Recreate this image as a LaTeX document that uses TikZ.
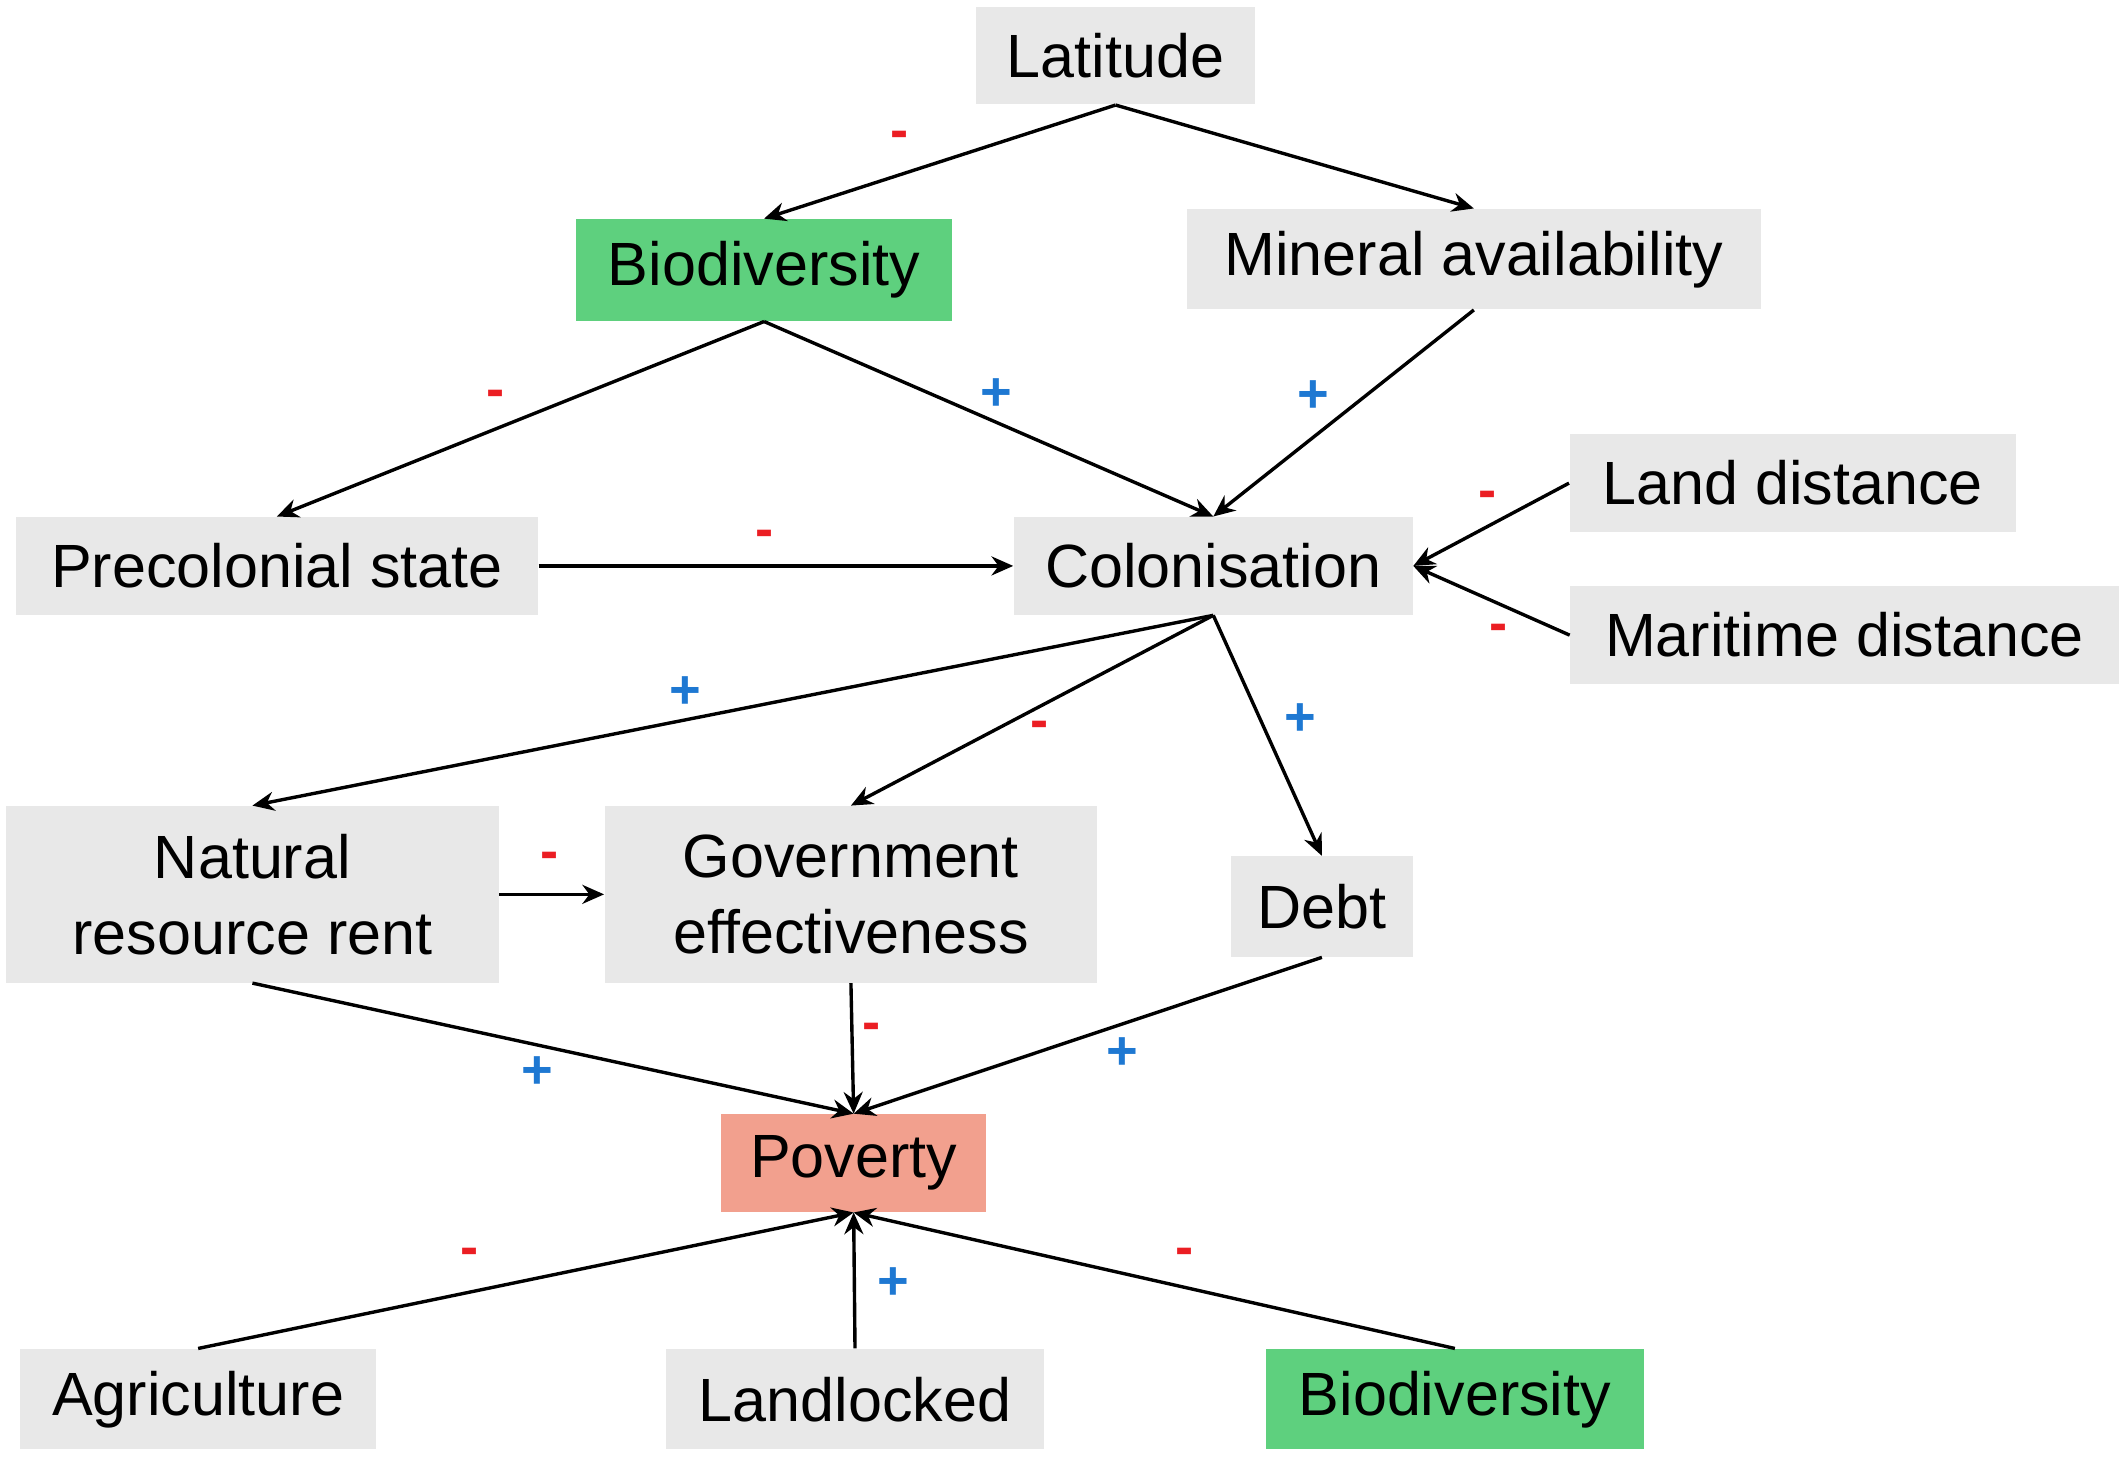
\documentclass[tikz,border=0pt]{standalone}
\usepackage{fontspec}
\setmainfont{Liberation Sans}
\usetikzlibrary{arrows.meta}
\definecolor{boxgrey}{RGB}{232,232,232}
\definecolor{boxgreen}{RGB}{94,208,126}
\definecolor{boxsalmon}{RGB}{242,160,142}
\definecolor{signred}{RGB}{235,30,35}
\definecolor{signblue}{RGB}{30,120,210}
\tikzset{
  var/.style={fill=boxgrey, inner sep=0pt, align=center, font=\fontsize{22.5}{28}\selectfont},
  plus/.style={text=signblue, inner sep=0pt, font=\fontsize{20}{20}\selectfont\bfseries},
  minus/.style={text=signred, inner sep=0pt, font=\fontsize{20}{20}\selectfont\bfseries},
  link/.style={line width=1.25pt, -{Stealth[length=8pt,width=7pt]}}
}
\begin{document}
\begin{tikzpicture}[x=0.5pt,y=-0.5pt]
  \useasboundingbox (0,0) rectangle (1568,1075);

  % variables
  \node[var, minimum width=102.5pt, minimum height=36pt] (lat) at (822,41) {Latitude};
  \node[var, fill=boxgreen, minimum width=138.5pt, minimum height=37.5pt] (bio) at (563,199) {Biodiversity};
  \node[var, minimum width=211.5pt, minimum height=37pt] (mineral) at (1086,191) {Mineral availability};
  \node[var, minimum width=192.5pt, minimum height=36pt] (precol) at (204,417) {Precolonial state};
  \node[var, minimum width=147pt, minimum height=36pt] (colon) at (894,417) {Colonisation};
  \node[var, minimum width=164.5pt, minimum height=36pt] (land) at (1321,356) {Land distance};
  \node[var, minimum width=202pt, minimum height=36pt] (sea) at (1359,468) {Maritime distance};
  \node[var, minimum width=181.5pt, minimum height=65pt] (rent) at (186,659) {Natural\\resource rent};
  \node[var, minimum width=181.5pt, minimum height=65pt] (gov) at (627,659) {Government\\effectiveness};
  \node[var, minimum width=67pt, minimum height=37pt] (debt) at (974,668) {Debt};
  \node[var, fill=boxsalmon, minimum width=97.5pt, minimum height=36pt] (poverty) at (629,857) {Poverty};
  \node[var, minimum width=131pt, minimum height=37pt] (agri) at (146,1031) {Agriculture};
  \node[var, minimum width=139.5pt, minimum height=37pt] (landlock) at (630,1031) {Landlocked};
  \node[var, fill=boxgreen, minimum width=139.5pt, minimum height=37pt] (bio2) at (1072,1031) {Biodiversity};

  % links
  \draw[link] (lat.south) -- (bio.north);
  \draw[link] (lat.south) -- (mineral.north);
  \draw[link] (bio.south) -- (precol.north);
  \draw[link] (bio.south) -- (colon.north);
  \draw[link] (mineral.south) -- (colon.north);
  \draw[link] (precol.east) -- (colon.west);
  \draw[link] (land.west) -- (colon.east);
  \draw[link] (sea.west) -- (colon.east);
  \draw[link] (colon.south) -- (rent.north);
  \draw[link] (colon.south) -- (gov.north);
  \draw[link] (colon.south) -- (debt.north);
  \draw[link] (rent.east) -- (gov.west);
  \draw[link] (rent.south) -- (poverty.north);
  \draw[link] (gov.south) -- (poverty.north);
  \draw[link] (debt.south) -- (poverty.north);
  \draw[link] (agri.north) -- (poverty.south);
  \draw[link] (landlock.north) -- (poverty.south);
  \draw[link] (bio2.north) -- (poverty.south);

  % signs
  \node[minus] (s1) at (663,103) {-};
  \node[minus] (s2) at (365,294) {-};
  \node[plus] (s3) at (734,291) {+};
  \node[plus] (s4) at (968,292) {+};
  \node[minus] (s5) at (563,397) {-};
  \node[minus] (s6) at (1096,368) {-};
  \node[minus] (s7) at (1104,466) {-};
  \node[plus] (s8) at (505,510) {+};
  \node[minus] (s9) at (766,538) {-};
  \node[plus] (s10) at (958,530) {+};
  \node[minus] (s11) at (405,634) {-};
  \node[plus] (s12) at (396,790) {+};
  \node[minus] (s13) at (642,760) {-};
  \node[plus] (s14) at (827,776) {+};
  \node[minus] (s15) at (346,926) {-};
  \node[plus] (s16) at (658,946) {+};
  \node[minus] (s17) at (873,926) {-};
\end{tikzpicture}
\end{document}
